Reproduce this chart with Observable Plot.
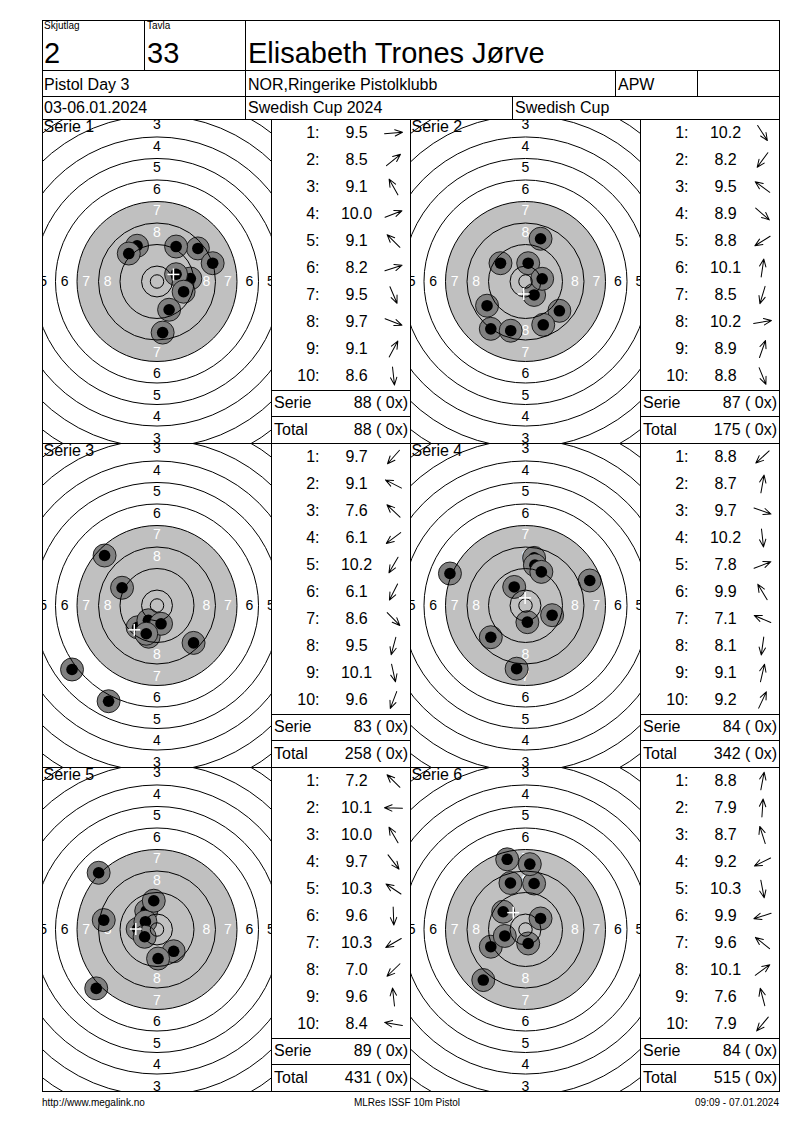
<!DOCTYPE html>
<html><head><meta charset="utf-8">
<script src="https://cdn.jsdelivr.net/npm/d3@7"></script>
<script src="https://cdn.jsdelivr.net/npm/@observablehq/plot@0.6"></script>
<style>
body{margin:0;background:#fff;}
#page{position:relative;width:800px;height:1130px;font-family:"Liberation Sans",Arial,sans-serif;color:#000;}
.t{position:absolute;white-space:pre;}
.ln{position:absolute;background:#000;}
.cell{position:absolute;overflow:hidden;}
.cell svg{display:block;}
</style></head><body><div id="page"></div>
<script>
// ---------- header / footer texts ----------
const headerLabels = ["Skjutlag", "Tavla"];
const headerValues = ["2", "33"];
const shooterName = "Elisabeth Trones Jørve";
const row2Texts = ["Pistol Day 3", "NOR,Ringerike Pistolklubb", "APW", ""];
const row3Texts = ["03-06.01.2024", "Swedish Cup 2024", "Swedish Cup"];
const footerTexts = ["http://www.megalink.no", "MLRes ISSF 10m Pistol", "09:09 - 07.01.2024"];

// ---------- series data ----------
const serieNames = ["Serie 1", "Serie 2", "Serie 3", "Serie 4", "Serie 5", "Serie 6"];
const serie1Scores = [9.5, 8.5, 9.1, 10.0, 9.1, 8.2, 9.5, 9.7, 9.1, 8.6];
const serie2Scores = [10.2, 8.2, 9.5, 8.9, 8.8, 10.1, 8.5, 10.2, 8.9, 8.8];
const serie3Scores = [9.7, 9.1, 7.6, 6.1, 10.2, 6.1, 8.6, 9.5, 10.1, 9.6];
const serie4Scores = [8.8, 8.7, 9.7, 10.2, 7.8, 9.9, 7.1, 8.1, 9.1, 9.2];
const serie5Scores = [7.2, 10.1, 10.0, 9.7, 10.3, 9.6, 10.3, 7.0, 9.6, 8.4];
const serie6Scores = [8.8, 7.9, 8.7, 9.2, 10.3, 9.9, 9.6, 10.1, 7.6, 7.9];
// shot positions on the target, mm from centre (x right, y up)
const serie1X = [12.4, 15.2, -7.4, 7.1, -10.5, 20.7, 4.5, 9.9, 7.1, 2.1];
const serie1Y = [1.1, 12.3, 13.3, 2.7, 10.4, 6.8, -10.5, -3.8, 13.0, -19.0];
const serie2X = [3.2, -12.9, -9.3, 12.6, -14.3, 1.0, -5.5, 6.2, 5.6, 6.6];
const serie2Y = [-5.0, -17.6, 6.8, -10.9, -9.0, 6.8, -18.3, 1.0, 15.9, -16.1];
const serie3X = [-7.2, -13.0, -19.5, -31.6, -3.2, -18.0, 13.6, -3.1, 1.5, -4.0];
const serie3Y = [-8.1, 6.6, 18.6, -23.8, -5.5, -35.6, -13.9, -11.6, -6.8, -10.5];
const serie4X = [-12.9, 3.2, 9.9, 0.7, 23.9, -4.2, -28.1, -3.3, 3.5, 5.9];
const serie4Y = [-11.8, 17.7, -3.6, -6.2, 9.3, 6.9, 11.9, -23.5, 15.0, 12.5];
const serie5X = [-21.7, -7.2, -4.0, 6.2, -4.3, 0.4, -4.6, -22.6, -1.2, -19.8];
const serie5Y = [21.1, 0.2, 6.9, -8.1, 2.9, -10.8, -2.7, -21.9, 10.7, 3.5];
const serie6X = [3.2, 1.6, -5.6, -12.9, 1.0, -7.7, -8.3, 5.6, -6.8, -15.7];
const serie6Y = [17.1, 24.3, 17.3, -6.4, -5.2, -2.4, 6.6, 4.1, 26.1, -18.8];
const serieTotals = [88, 87, 83, 84, 89, 84];
const runningTotals = [88, 175, 258, 342, 431, 515];
const serieInnerTens = [0, 0, 0, 0, 0, 0];
const totalInnerTens = [0, 0, 0, 0, 0, 0];

// ---------- ISSF 10m pistol target (mm) ----------
const ringNumbers = [1, 2, 3, 4, 5, 6, 7, 8, 9, 10];
const ringRadiiMm = [77.75, 69.75, 61.75, 53.75, 45.75, 37.75, 29.75, 21.75, 13.75, 5.75];
const innerTenRadiusMm = 2.5;
const aimingBlackRadiusMm = 29.75;

const scores = [serie1Scores, serie2Scores, serie3Scores, serie4Scores, serie5Scores, serie6Scores];
const shotXs = [serie1X, serie2X, serie3X, serie4X, serie5X, serie6X];
const shotYs = [serie1Y, serie2Y, serie3Y, serie4Y, serie5Y, serie6Y];

const FONT = "Liberation Sans, Arial, sans-serif";
const PX_PER_MM = 2.689;
const LABEL_OFFSET_MM = 0.6;
const page = document.getElementById("page");

function txt(s, x, top, fs, align = "left") {
  const d = document.createElement("div");
  d.className = "t";
  d.textContent = s;
  d.style.left = x + "px";
  d.style.top = top + "px";
  d.style.fontSize = fs + "px";
  d.style.lineHeight = fs + "px";
  if (align === "right") d.style.transform = "translateX(-100%)";
  if (align === "center") d.style.transform = "translateX(-50%)";
  page.appendChild(d);
}
function line(x, y, w, h) {
  const d = document.createElement("div");
  d.className = "ln";
  d.style.left = x + "px"; d.style.top = y + "px";
  d.style.width = w + "px"; d.style.height = h + "px";
  page.appendChild(d);
}
function place(node, x, y, w, h) {
  const c = document.createElement("div");
  c.className = "cell";
  c.style.left = x + "px"; c.style.top = y + "px";
  c.style.width = w + "px"; c.style.height = h + "px";
  c.appendChild(node);
  page.appendChild(c);
}

const arrowShape = {
  draw(context, l) {
    context.moveTo(0, 0);
    context.lineTo(0, -l);
    context.moveTo(-3.2, -l + 7.5);
    context.lineTo(0, -l);
    context.lineTo(3.2, -l + 7.5);
  }
};

function targetPlot(i, w, h) {
  const shots = d3.range(10).map(j => ({n: j + 1, x: shotXs[i][j], y: shotYs[i][j]}));
  const mx = d3.mean(shots, d => d.x), my = d3.mean(shots, d => d.y);
  const halfW = w / 2 / PX_PER_MM, halfH = h / 2 / PX_PER_MM;
  const rings = ringNumbers.map((n, k) => ({n, r: ringRadiiMm[k] * PX_PER_MM}));
  rings.push({n: 11, r: innerTenRadiusMm * PX_PER_MM});
  const labels = [];
  ringNumbers.filter(n => n <= 8).forEach(n => {
    const lr = (ringRadiiMm[n - 1] + ringRadiiMm[n]) / 2 + LABEL_OFFSET_MM;
    [[0, lr], [0, -lr], [lr, 0], [-lr, 0]].forEach(([x, y]) =>
      labels.push({n, x, y, c: ringRadiiMm[n - 1] <= aimingBlackRadiusMm ? "white" : "black"}));
  });
  const a = 6 / PX_PER_MM;
  const shotMarks = shots.flatMap(s => [
    Plot.dot([s], {x: "x", y: "y", r: 11.5, fill: "#808080", stroke: "black", strokeWidth: 0.8}),
    Plot.dot([s], {x: "x", y: "y", r: 5.8, fill: "black"})
  ]);
  return Plot.plot({
    width: w, height: h, margin: 0,
    x: {domain: [-halfW, halfW], axis: null},
    y: {domain: [-halfH, halfH], axis: null},
    r: {type: "identity"},
    style: {background: "transparent", fontFamily: FONT},
    marks: [
      Plot.dot([{x: 0, y: 0}], {x: "x", y: "y", r: aimingBlackRadiusMm * PX_PER_MM, fill: "#c0c0c0"}),
      Plot.text(labels, {x: "x", y: "y", text: "n", fill: "c", fontSize: 14, clip: true}),
      ...shotMarks,
      Plot.dot(rings, {x: () => 0, y: () => 0, r: "r", fill: "none", stroke: "black", strokeWidth: 1}),
      Plot.link([{x1: mx - a, x2: mx + a, y1: my, y2: my}, {x1: mx, x2: mx, y1: my - a, y2: my + a}],
        {x1: "x1", x2: "x2", y1: "y1", y2: "y2", stroke: "white", strokeWidth: 1.5}),
      Plot.text([serieNames[i]], {frameAnchor: "top-left", text: d => d, dx: 1, dy: 1, fontSize: 16, fill: "black"})
    ]
  });
}

function tablePlot(i, w) {
  const rows = d3.range(10).map(j => ({
    n: j + 1, s: scores[i][j],
    rot: Math.atan2(shotXs[i][j], shotYs[i][j]) * 180 / Math.PI
  }));
  return Plot.plot({
    width: w, height: 271, margin: 0,
    x: {type: "point", domain: ["num", "val", "dir"], range: [47, 122], padding: 0, axis: null},
    y: {type: "band", domain: d3.range(1, 11), range: [-1, 270], padding: 0, axis: null},
    style: {background: "transparent", fontFamily: FONT},
    marks: [
      Plot.text(rows, {x: () => "num", y: "n", text: d => d.n + ":", textAnchor: "end", fontSize: 16, fill: "black"}),
      Plot.text(rows, {x: () => "val", y: "n", text: d => d.s.toFixed(1), fontSize: 16, fill: "black"}),
      Plot.vector(rows, {x: () => "dir", y: "n", rotate: "rot", length: 18, anchor: "middle",
        shape: arrowShape, stroke: "black", strokeWidth: 1})
    ]
  });
}

// ---------- layout ----------
const L = 42, R = 779;
const colX = [42, 271, 410, 640, 779];
const rowTop = [119, 443, 767];
const rowH = 324;

// header texts
txt(headerLabels[0], 44, 21, 10);
txt(headerLabels[1], 147, 21, 10);
txt(headerValues[0], 44, 38.5, 29);
txt(headerValues[1], 147, 38.5, 29);
txt(shooterName, 248, 38.5, 29);
txt(row2Texts[0], 44, 77, 16);
txt(row2Texts[1], 248, 77, 16);
txt(row2Texts[2], 618, 77, 16);
txt(row2Texts[3], 700, 77, 16);
txt(row3Texts[0], 44, 100, 16);
txt(row3Texts[1], 248, 100, 16);
txt(row3Texts[2], 515, 100, 16);

// series blocks
for (let i = 0; i < 6; i++) {
  const r = Math.floor(i / 2), c = i % 2;
  const top = rowTop[r];
  const tx = colX[c * 2], tw = colX[c * 2 + 1] - tx;
  const bx = colX[c * 2 + 1], bw = colX[c * 2 + 2] - bx;
  place(targetPlot(i, tw, rowH), tx, top, tw, rowH);
  place(tablePlot(i, bw), bx, top, bw, 271);
  txt("Serie", bx + 3, top + 276, 16);
  txt(`${serieTotals[i]} ( ${serieInnerTens[i]}x)`, bx + 137, top + 276, 16, "right");
  txt("Total", bx + 3, top + 302.5, 16);
  txt(`${runningTotals[i]} ( ${totalInnerTens[i]}x)`, bx + 137, top + 302.5, 16, "right");
  line(bx, top + 271, bw, 1);
  line(bx, top + 297, bw, 1);
}

// footer
txt(footerTexts[0], 42, 1098, 10);
txt(footerTexts[1], 407, 1098, 10, "center");
txt(footerTexts[2], 779, 1098, 10, "right");

// rules
[20, 70, 96, 119, 443, 767, 1091].forEach(y => line(L, y, R - L + 1, 1));
line(L, 20, 1, 1091 - 20 + 1);
line(R, 20, 1, 1091 - 20 + 1);
[144, 245].forEach(x => line(x, 20, 1, 50));
[245, 615, 697].forEach(x => line(x, 70, 1, 26));
[245, 512].forEach(x => line(x, 96, 1, 23));
[271, 410, 640].forEach(x => line(x, 119, 1, 1091 - 119));
</script></body></html>
